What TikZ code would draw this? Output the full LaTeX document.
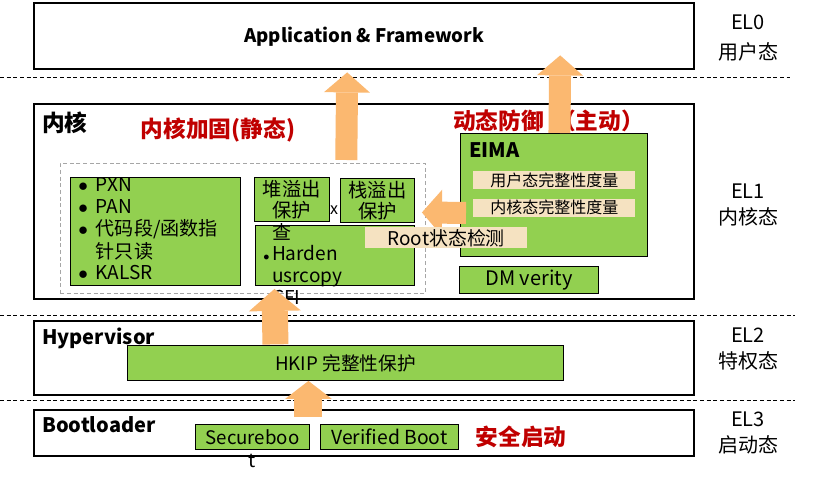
\documentclass[tikz,border=0pt]{standalone}
\usepackage{fontspec}
\setmainfont{Noto Sans CJK SC}
\usetikzlibrary{arrows.meta,positioning}
\definecolor{kgreen}{RGB}{146,208,80}
\definecolor{kbeige}{RGB}{245,226,193}
\definecolor{korange}{RGB}{251,184,112}
\definecolor{kred}{RGB}{192,0,0}

\begin{document}
\begin{tikzpicture}[x=0.75pt, y=-0.75pt,
      layer/.style={draw, line width=1.8pt, fill=white, anchor=north west, inner sep=0pt,
                    minimum width=660*0.75pt},
      sep/.style={dashed, dash pattern=on 3pt off 2pt, line width=0.6pt},
      zone/.style={draw=gray!70, dashed, dash pattern=on 3pt off 2pt, anchor=north west, inner sep=0pt},
      gbox/.style={draw, line width=0.7pt, fill=kgreen, anchor=north west, inner sep=0pt,
                   align=center, font=\fontsize{14}{16}\selectfont},
      tag/.style={fill=kbeige, anchor=north west, inner sep=0pt, font=\fontsize{12}{14}\selectfont},
      body/.style={inner sep=0pt, font=\fontsize{14.3}{16.2}\selectfont},
      title/.style={anchor=west, inner sep=0pt, font=\bfseries\fontsize{15}{17}\selectfont},
      redtitle/.style={text=kred, inner sep=0pt, font=\bfseries\fontsize{17}{19}\selectfont},
      ellabel/.style={align=center, inner sep=0pt, font=\fontsize{15}{19}\selectfont},
      fat/.style={draw=korange, line width=16.5pt, -{Triangle[length=15pt, width=34.5pt, line width=0pt]}},
      fatwide/.style={draw=korange, line width=19.5pt, -{Triangle[length=16.5pt, width=39pt, line width=0pt]}},
      fatboot/.style={draw=korange, line width=21pt, -{Triangle[length=13.5pt, width=35pt, line width=0pt]}}]
    \useasboundingbox (0,0) rectangle (814,484);

    % EL0
    \node[layer, minimum height=66*0.75pt, font=\bfseries\fontsize{14}{16}\selectfont] (app) at (33,2) {Application \& Framework};
    \node[ellabel, font=\fontsize{15}{22}\selectfont] (el0) at (748,38) {EL0\\用户态};
    \draw[sep] (0,77) -- (790,77);

    % EL1
    \node[layer, minimum height=195*0.75pt] (kernel) at (33,103) {};
    \node[title, font=\bfseries\fontsize{17}{19}\selectfont] (kernelT) at (42,123) {内核};
    \node[redtitle] (staticT) at (218,130) {内核加固(静态)};
    \node[redtitle, anchor=west] (dynT) at (453,121) {动态防御\hspace{7pt}（主动）};
    \node[zone, minimum width=365*0.75pt, minimum height=130*0.75pt] (static) at (60,163) {};
    \node[gbox, minimum width=170*0.75pt, minimum height=108*0.75pt] (hw) at (70,177) {};
    \node[body, anchor=west] (hwT) at ([xshift=8*0.75pt]hw.west)
      {\begin{tabular}{@{}l@{\hspace{6pt}}l@{}}
         $\bullet$ & PXN\\
         $\bullet$ & PAN\\
         $\bullet$ & 代码段/函数指\\
                   & 针只读\\
         $\bullet$ & KALSR
       \end{tabular}};
    \node[gbox, minimum width=159*0.75pt, minimum height=60*0.75pt] (harden) at (255,225) {};
    \node[body, anchor=north west] (hardenT) at (263,223)
      {\begin{tabular}{@{}l@{\hspace{2pt}}l@{}}
                          & 查\\
         {\small$\bullet$} & Harden\\
                          & usrcopy\\
                          & CFI
       \end{tabular}};
    \node[gbox, minimum width=75*0.75pt, minimum height=44*0.75pt, font=\fontsize{14.5}{16}\selectfont] (heap) at (254,177) {堆溢出\\保护};
    \node[gbox, minimum width=74*0.75pt, minimum height=44*0.75pt, font=\fontsize{14.5}{16}\selectfont] (stack) at (340,178) {栈溢出\\保护};
    \node[body, font=\fontsize{12}{14}\selectfont] (xmark) at (334,210) {x};
    \node[gbox, minimum width=187*0.75pt, minimum height=123*0.75pt] (eima) at (460,133) {};
    \node[title] (eimaT) at (469,150) {EIMA};
    \node[tag, minimum width=162*0.75pt, minimum height=18*0.75pt] (userm) at (473,171) {用户态完整性度量};
    \node[tag, minimum width=162*0.75pt, minimum height=18*0.75pt, below=9*0.75pt of userm] (kernm) {内核态完整性度量};
    \node[gbox, minimum width=139*0.75pt, minimum height=27*0.75pt, font=\fontsize{15}{17}\selectfont] (dmv) at (459,266) {DM verity};
    \draw[fat] ([shift={(6,18)}]eima.west) -- ([shift={(7,12)}]stack.east);
    \node[tag, minimum width=162*0.75pt, minimum height=21*0.75pt, font=\fontsize{14.2}{16}\selectfont] (root) at (365,227) {Root状态检测};
    \node[ellabel] (el1) at (748,205) {EL1\\内核态};
    \draw[sep] (0,315) -- (795,315);

    % EL2
    \node[layer, minimum height=74*0.75pt] (hyp) at (33,320) {};
    \node[title] (hypT) at (42,338) {Hypervisor};
    \node[gbox, minimum width=436*0.75pt, minimum height=35*0.75pt] (hkip) at (127,345) {HKIP 完整性保护};
    \draw[fatwide] ([shift={(-70,-0.6)}]hkip.north) -- ([shift={(-60.5,3)}]harden.south);
    \node[ellabel] (el2) at (748,349) {EL2\\特权态};
    \draw[sep] (0,400) -- (795,400);

    % EL3
    \node[layer, minimum height=46*0.75pt] (boot) at (33,409) {};
    \node[title] (bootT) at (42,425) {Bootloader};
    \node[gbox, minimum width=114*0.75pt, minimum height=25*0.75pt] (secboot) at (195,424) {Secureboo};
    \node[body] (secbootT) at (252,461) {t};
    \node[gbox, minimum width=138*0.75pt, minimum height=25*0.75pt, font=\fontsize{14.5}{16}\selectfont, anchor=west, right=10*0.75pt of secboot] (vboot) {Verified Boot};
    \node[redtitle] (secT) at (521,437) {安全启动};
    \draw[fatboot] ([shift={(56,-7)}]secboot.north) -- ([xshift=-37*0.75pt]hkip.south);
    \node[ellabel] (el3) at (748,433) {EL3\\启动态};

    % up to EL0
    \draw[fat] ([shift={(103.5,-3)}]static.north) -- ([shift={(-17,2)}]app.south);
    \draw[fat] ([xshift=5.5*0.75pt]eima.north) -- ([shift={(196,-15)}]app.south);
\end{tikzpicture}
\end{document}
